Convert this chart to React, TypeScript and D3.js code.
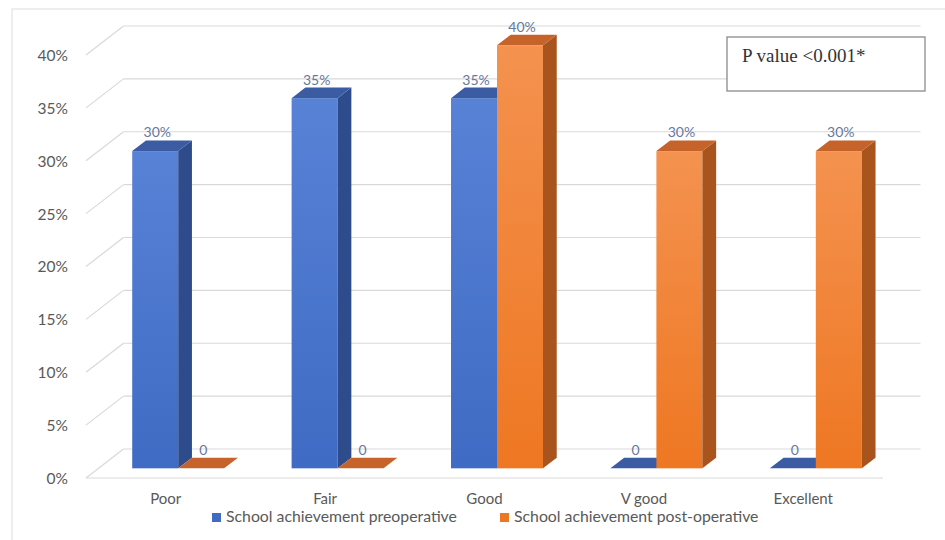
import React from "react";
import * as d3 from "d3";

const categories = ["Poor", "Fair", "Good", "V good", "Excellent"];
const preoperative = [30, 35, 35, 0, 0];
const postoperative = [0, 0, 40, 30, 30];
const yTicks = [0, 5, 10, 15, 20, 25, 30, 35, 40];
const seriesNames = ["School achievement preoperative", "School achievement post-operative"];
const pValueText = "P value <0.001*";

const W = 945;
const H = 540;
const DX = 37.5;
const DY = 29;
const D1 = 1 / 3;
const D2 = 0.7;

const palette = [
  { front0: "#5882d6", front1: "#3f6bc4", side: "#2e4c8c", top: "#3b5ba2" },
  { front0: "#f4924f", front1: "#ee7722", side: "#a9541c", top: "#c5632a" },
];

export default function App() {
  const x = d3.scaleBand<string>().domain(categories).range([86, 883]);
  const inner = d3
    .scaleBand<number>()
    .domain([0, 1])
    .range([0, x.bandwidth()])
    .paddingInner(0)
    .paddingOuter(0.733);
  const y = d3.scaleLinear().domain([0, 40]).range([478, 55]);
  const P = (px: number, py: number, d: number) => [px + d * DX, py - d * DY];
  const pts = (arr: number[][]) => arr.map((p) => p.join(",")).join(" ");

  const series = [preoperative, postoperative];
  const fontAxis = "Lato, 'Open Sans', sans-serif";

  const bars: React.ReactNode[] = [];
  const labels: React.ReactNode[] = [];
  categories.forEach((c, ci) => {
    series.forEach((vals, si) => {
      const v = vals[ci];
      const x0 = (x(c) as number) + (inner(si) as number);
      const x1 = x0 + inner.bandwidth();
      const yb = y(0);
      const yt = y(v);
      const col = palette[si];
      const key = `${ci}-${si}`;
      if (v > 0) {
        const f = P(x0, yt, D1);
        bars.push(
          <g key={key}>
            <rect x={f[0]} y={f[1]} width={x1 - x0} height={yb - yt} fill={`url(#grad${si})`} />
            <polygon points={pts([P(x1, yt, D1), P(x1, yt, D2), P(x1, yb, D2), P(x1, yb, D1)])} fill={col.side} />
            <polygon points={pts([P(x0, yt, D1), P(x1, yt, D1), P(x1, yt, D2), P(x0, yt, D2)])} fill={col.top} />
          </g>
        );
      } else {
        bars.push(
          <polygon key={key} points={pts([P(x0, yb, D1), P(x1, yb, D1), P(x1, yb, D2), P(x0, yb, D2)])} fill={col.top} />
        );
      }
      const lp = P((x0 + x1) / 2, yt, D2);
      labels.push(
        <text key={"l" + key} x={lp[0] - DX * (D2 - D1) * 0.85} y={lp[1] - 3} textAnchor="middle" fontSize={14} fill="#66789c" fontFamily={fontAxis}>
          {v === 0 ? "0" : `${v}%`}
        </text>
      );
    });
  });

  const [xl, xr] = x.range();

  return (
    <svg width={W} height={H} style={{ position: "absolute", left: 0, top: 0, background: "#fff" }}>
      <defs>
        {palette.map((p, i) => (
          <linearGradient key={i} id={`grad${i}`} x1="0" y1="0" x2="0" y2="1">
            <stop offset="0" stopColor={p.front0} />
            <stop offset="1" stopColor={p.front1} />
          </linearGradient>
        ))}
      </defs>
      <rect x={12} y={9} width={1000} height={1000} fill="none" stroke="#e3e3e3" strokeWidth={1.2} />
      {yTicks.map((t) => {
        const a = P(xl, y(t), 0);
        const b = P(xl, y(t), 1);
        const c = P(xr, y(t), 1);
        return (
          <g key={t}>
            <line x1={a[0]} y1={a[1]} x2={b[0]} y2={b[1]} stroke="#d9d9d9" strokeWidth={1.2} />
            <line x1={b[0]} y1={b[1]} x2={c[0]} y2={c[1]} stroke="#d9d9d9" strokeWidth={1.2} />
            <text x={68} y={y(t) + 2} textAnchor="end" dominantBaseline="middle" fontSize={15.5} fill="#595959" fontFamily={fontAxis}>
              {`${t}%`}
            </text>
          </g>
        );
      })}
      <line x1={xl} y1={y(0)} x2={xr} y2={y(0)} stroke="#d9d9d9" strokeWidth={1.2} />
      {bars}
      {labels}
      {categories.map((c) => (
        <text key={c} x={(x(c) as number) + x.bandwidth() / 2} y={500} textAnchor="middle" dominantBaseline="middle" fontSize={15} fill="#595959" fontFamily={fontAxis}>
          {c}
        </text>
      ))}
      {seriesNames.map((s, i) => {
        const lx = i === 0 ? 212 : 500;
        return (
          <g key={s}>
            <rect x={lx} y={513} width={9} height={9} fill={palette[i].front1} />
            <text x={lx + 14} y={518} dominantBaseline="middle" fontSize={15.8} fill="#595959" fontFamily={fontAxis}>
              {s}
            </text>
          </g>
        );
      })}
      <rect x={727} y={37} width={198} height={54} fill="#fff" stroke="#8a8a8a" strokeWidth={1.3} />
      <text x={742} y={62} fontSize={19} fill="#333" fontFamily="'Liberation Serif', 'Times New Roman', serif">
        {pValueText}
      </text>
    </svg>
  );
}
